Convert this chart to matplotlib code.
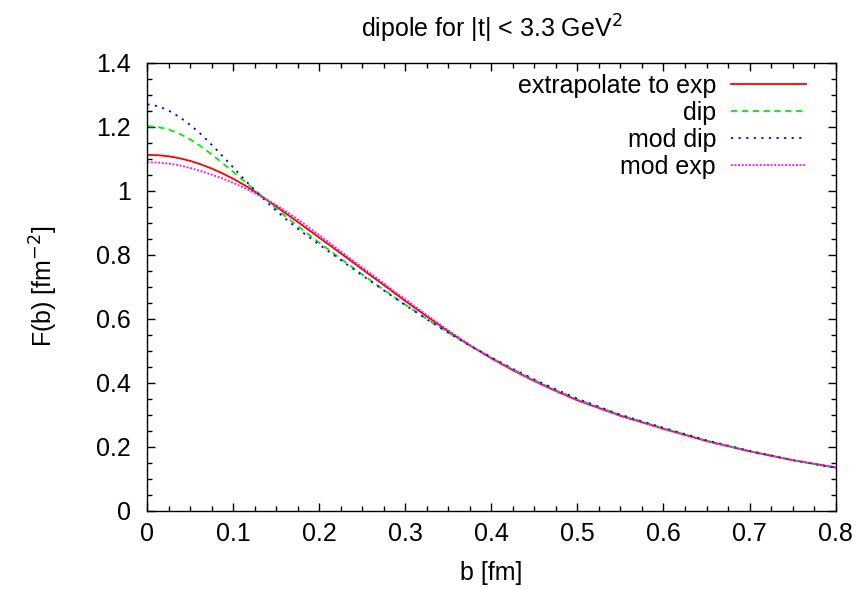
import matplotlib
matplotlib.use("Agg")
import matplotlib.pyplot as plt
from matplotlib.ticker import MultipleLocator

plt.rcParams['font.family'] = ['Liberation Sans', 'DejaVu Sans']

# impact parameter b [fm]
b = [0.0, 0.0125, 0.025, 0.0375, 0.05, 0.0625, 0.075, 0.0875, 0.1, 0.1125,
     0.125, 0.1375, 0.15, 0.1625, 0.175, 0.2, 0.225, 0.25, 0.275, 0.3,
     0.325, 0.35, 0.375, 0.4, 0.425, 0.45, 0.475, 0.5, 0.55, 0.6, 0.65,
     0.7, 0.75, 0.8]

# F(b) [fm^-2] for each parametrisation
extrap_exp = [1.112, 1.111, 1.1075, 1.1015, 1.093, 1.082, 1.069, 1.054, 1.037,
              1.018, 0.997, 0.974, 0.950, 0.926, 0.902, 0.853, 0.804, 0.754,
              0.705, 0.655, 0.607, 0.560, 0.516, 0.476, 0.439, 0.405, 0.374,
              0.345, 0.297, 0.256, 0.218, 0.186, 0.158, 0.135]
dip = [1.202, 1.199, 1.191, 1.178, 1.160, 1.138, 1.113, 1.086, 1.058, 1.030,
       1.002, 0.973, 0.944, 0.916, 0.889, 0.837, 0.787, 0.738, 0.690, 0.644,
       0.599, 0.556, 0.516, 0.478, 0.442, 0.408, 0.377, 0.348, 0.299, 0.258,
       0.219, 0.186, 0.158, 0.134]
mod_dip = [1.270, 1.264, 1.250, 1.230, 1.205, 1.176, 1.143, 1.108, 1.072,
           1.036, 1.001, 0.968, 0.937, 0.908, 0.881, 0.831, 0.783, 0.735,
           0.688, 0.642, 0.598, 0.556, 0.516, 0.479, 0.443, 0.410, 0.379,
           0.350, 0.300, 0.259, 0.220, 0.187, 0.158, 0.134]
mod_exp = [1.089, 1.088, 1.085, 1.079, 1.071, 1.061, 1.050, 1.038, 1.024,
           1.009, 0.992, 0.974, 0.955, 0.933, 0.910, 0.861, 0.810, 0.760,
           0.710, 0.660, 0.611, 0.563, 0.518, 0.477, 0.440, 0.405, 0.374,
           0.345, 0.296, 0.255, 0.217, 0.185, 0.158, 0.136]

labels = ["extrapolate to exp", "dip", "mod dip", "mod exp"]

fig = plt.figure(figsize=(8.67, 5.90), dpi=100)
ax = fig.add_axes([0.170, 0.1344, 0.7937, 0.7593])

lw = 1.3
ax.plot(b, extrap_exp, color='#ff0000', lw=lw, ls='-', label=labels[0])
ax.plot(b, dip, color='#00ee00', lw=lw, ls=(0, (3.5, 2.5)), label=labels[1])
ax.plot(b, mod_dip, color='#0000ff', lw=lw, ls=(0, (1.2, 3.0)), label=labels[2])
ax.plot(b, mod_exp, color='#ff00ff', lw=lw, ls=(0, (1.0, 1.0)), label=labels[3])

ax.set_xlim(0, 0.8)
ax.set_ylim(0, 1.4)
ax.xaxis.set_major_locator(MultipleLocator(0.1))
ax.xaxis.set_minor_locator(MultipleLocator(0.025))
ax.yaxis.set_major_locator(MultipleLocator(0.2))
ax.yaxis.set_minor_locator(MultipleLocator(0.05))
ax.set_xticklabels([f"{v:g}" for v in ax.get_xticks()])
ax.set_yticklabels([f"{v:g}" for v in ax.get_yticks()])

ax.tick_params(which='both', direction='in', top=True, right=True,
               labelsize=18, colors='black')
ax.tick_params(which='major', length=6, width=1.0)
ax.tick_params(which='minor', length=3.5, width=1.0)
ax.tick_params(axis='x', which='major', pad=8)
ax.tick_params(axis='y', which='major', pad=12)
for sp in ax.spines.values():
    sp.set_linewidth(1.0)

ax.set_xlabel("b [fm]", fontsize=18, labelpad=11)
ax.set_ylabel("F(b) [fm$^{-2}$]", fontsize=18, labelpad=26)
ax.set_title("dipole for |t| < 3.3 GeV$^2$", fontsize=18, pad=18)

ax.legend(loc='upper right', frameon=False, markerfirst=False, fontsize=18,
          handlelength=3.0, handletextpad=0.6, labelspacing=0.12,
          borderaxespad=0.2, bbox_to_anchor=(0.979, 1.008))

fig.savefig("out.png", dpi=100)
